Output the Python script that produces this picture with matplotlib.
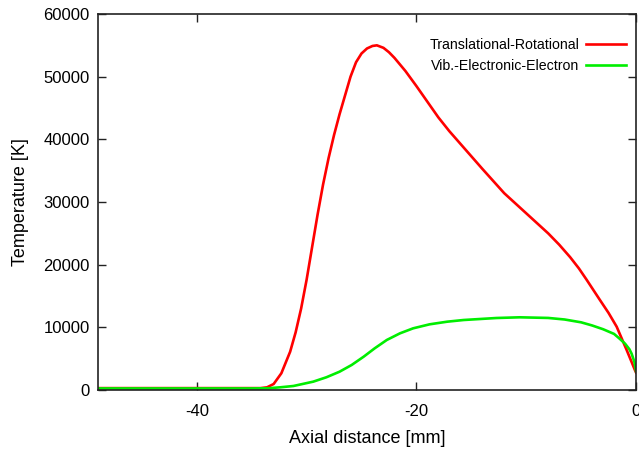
import matplotlib
matplotlib.use("Agg")
import matplotlib.pyplot as plt

plt.rcParams['font.family'] = ['Liberation Sans', 'DejaVu Sans']
plt.rcParams['axes.unicode_minus'] = False

# Translational-Rotational temperature
x_tr = [-49.0, -40.0, -35.0, -34.2, -33.6, -33.0, -32.3, -31.5, -31.0, -30.5,
        -30.0, -29.5, -29.0, -28.5, -28.0, -27.5, -27.0, -26.5, -26.0, -25.5,
        -25.0, -24.5, -24.0, -23.6, -23.0, -22.5, -22.0, -21.0, -20.0, -19.0,
        -18.0, -17.0, -16.0, -15.0, -14.0, -12.0, -10.0, -8.0, -7.0, -6.0,
        -5.2, -4.5, -3.3, -2.5, -1.76, -0.85, -0.1, 0.0]
y_tr = [300, 300, 300, 300, 430, 960, 2670, 6110, 9200, 13000,
        17600, 22800, 28000, 32800, 37000, 40700, 44000, 47000, 50000, 52300,
        53700, 54500, 54900, 55000, 54600, 53900, 53000, 50900, 48500, 46000,
        43500, 41300, 39300, 37300, 35300, 31400, 28200, 25000, 23200, 21200,
        19400, 17600, 14400, 12300, 10100, 6380, 3190, 2800]

# Vib.-Electronic-Electron temperature
x_ve = [-49.0, -40.0, -35.0, -33.5, -32.4, -31.2, -29.4, -28.2, -27.0, -25.9,
        -24.8, -23.8, -22.7, -21.5, -20.3, -18.8, -17.2, -15.7, -14.2, -12.7,
        -10.6, -8.0, -6.5, -5.0, -4.0, -3.0, -2.0, -1.5, -1.0, -0.6, -0.4,
        -0.15, 0.0]
y_ve = [250, 250, 250, 280, 430, 640, 1330, 2030, 2920, 3990,
        5320, 6650, 7980, 9040, 9840, 10480, 10900, 11170, 11330, 11490,
        11600, 11500, 11250, 10800, 10300, 9700, 8950, 8200, 7400, 6500, 5800,
        4500, 3000]

labels = ["Translational-Rotational", "Vib.-Electronic-Electron"]

fig = plt.figure(figsize=(6.39, 4.49), dpi=100)
ax = fig.add_axes([98/639, 1-390/449, (636-98)/639, (390-14)/449])

ax.plot(x_tr, y_tr, color='#ff0000', lw=1.9, label=labels[0])
ax.plot(x_ve, y_ve, color='#00ee00', lw=1.9, label=labels[1])

ax.set_xlim(-49, 0)
ax.set_ylim(0, 60000)
ax.set_xticks([-40, -20, 0])
ax.set_yticks([0, 10000, 20000, 30000, 40000, 50000, 60000])
ax.tick_params(direction='in', length=6, width=1, top=True, right=True,
               labelsize=12, colors='#222222', labelcolor='black')
ax.tick_params(axis='x', pad=10)
ax.tick_params(axis='y', pad=6)
for s in ax.spines.values():
    s.set_linewidth(1.2)
    s.set_color('#222222')

ax.set_xlabel("Axial distance [mm]", fontsize=13, labelpad=8)
ax.set_ylabel("Temperature [K]", fontsize=13, labelpad=10)

leg = ax.legend(loc='upper right', frameon=False, markerfirst=False,
                fontsize=10.2, handlelength=2.8, handletextpad=0.5,
                borderaxespad=0.0, labelspacing=0.5,
                bbox_to_anchor=(0.992, 0.952))

fig.savefig("out.png", dpi=100)
